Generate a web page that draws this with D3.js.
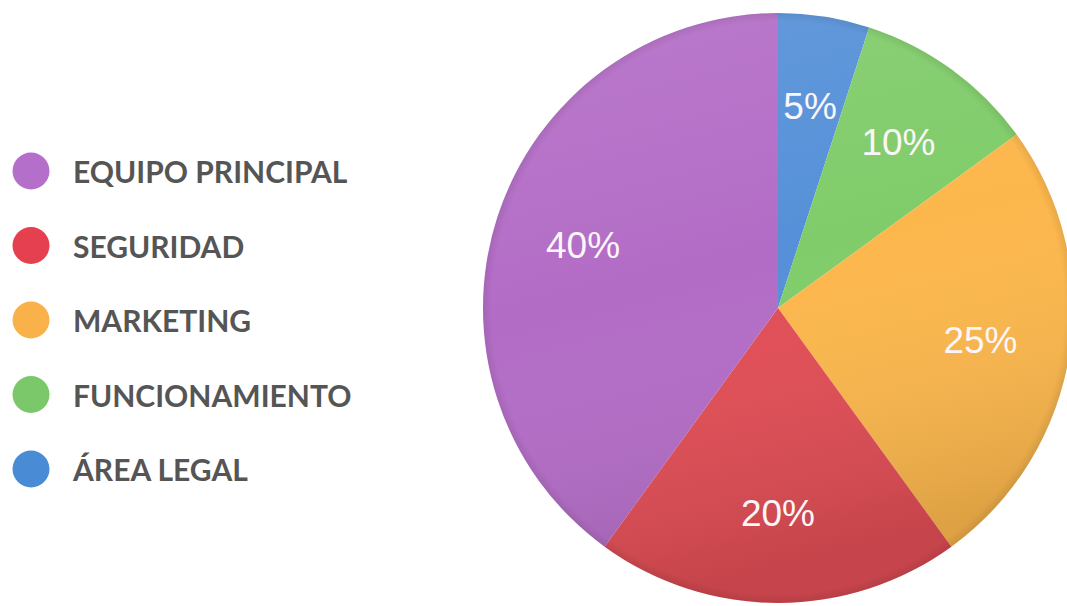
<!DOCTYPE html>
<html>
<head>
<meta charset="utf-8">
<script src="https://cdn.jsdelivr.net/npm/d3@7"></script>
<style>
  html, body { margin: 0; padding: 0; background: #ffffff; }
  svg { display: block; }
</style>
</head>
<body>
<svg id="chart" width="1067" height="606"></svg>
<script>
// ---- data ----
const categories = ["ÁREA LEGAL", "FUNCIONAMIENTO", "MARKETING", "SEGURIDAD", "EQUIPO PRINCIPAL"];
const values = [5, 10, 25, 20, 40];
const sliceColors = ["#5590d8", "#80cc6a", "#fcb74c", "#e14d55", "#b36cc6"];
const legendOrder = ["EQUIPO PRINCIPAL", "SEGURIDAD", "MARKETING", "FUNCIONAMIENTO", "ÁREA LEGAL"];
const legendColors = ["#b46fcb", "#e5404f", "#f9b24a", "#7bc86a", "#4a8bd6"];

const svg = d3.select("#chart");
const defs = svg.append("defs");

const cx = 778, cy = 308, R = 295;

const color = d3.scaleOrdinal().domain(categories).range(sliceColors);

const pie = d3.pie().sort(null).value(d => d.value);
const data = categories.map((c, i) => ({ cat: c, value: values[i] }));
const arcs = pie(data);

const arc = d3.arc().innerRadius(0).outerRadius(R);
const labelArc = d3.arc().innerRadius(205).outerRadius(205);

// shading overlay gradient
const shade = defs.append("linearGradient")
  .attr("id", "shade").attr("x1", "0").attr("y1", "0").attr("x2", "0.25").attr("y2", "1");
shade.append("stop").attr("offset", "0%").attr("stop-color", "#ffffff").attr("stop-opacity", 0.1);
shade.append("stop").attr("offset", "50%").attr("stop-color", "#ffffff").attr("stop-opacity", 0.0);
shade.append("stop").attr("offset", "100%").attr("stop-color", "#000000").attr("stop-opacity", 0.12);

const rim = defs.append("radialGradient").attr("id", "rim");
rim.append("stop").attr("offset", "97%").attr("stop-color", "#000").attr("stop-opacity", 0);
rim.append("stop").attr("offset", "100%").attr("stop-color", "#000").attr("stop-opacity", 0.08);

const g = svg.append("g").attr("transform", `translate(${cx},${cy})`);

g.selectAll("path.slice")
  .data(arcs)
  .join("path")
  .attr("class", "slice")
  .attr("d", arc)
  .attr("fill", d => color(d.data.cat));

g.append("circle").attr("r", R).attr("fill", "url(#shade)");
g.append("circle").attr("r", R).attr("fill", "url(#rim)");

g.selectAll("text.pct")
  .data(arcs)
  .join("text")
  .attr("class", "pct")
  .attr("transform", d => `translate(${labelArc.centroid(d)})`)
  .attr("text-anchor", "middle")
  .attr("dy", "0.36em")
  .attr("fill", "#fbf6f8")
  .style("font-family", "'Liberation Sans', Arial, sans-serif")
  .style("font-size", "37px")
  .text(d => d.data.value + "%");

// legend
const ly = d3.scalePoint().domain(legendOrder).range([171, 469]);
const lcol = d3.scaleOrdinal().domain(legendOrder).range(legendColors);

const leg = svg.append("g").selectAll("g")
  .data(legendOrder)
  .join("g")
  .attr("transform", d => `translate(0,${ly(d)})`);

leg.append("circle").attr("cx", 31).attr("cy", 0).attr("r", 18.5).attr("fill", d => lcol(d));
leg.append("text")
  .attr("x", 73).attr("y", 12)
  .attr("fill", "#555555")
  .style("font-family", "Lato, 'Open Sans', sans-serif")
  .style("font-weight", "700")
  .style("font-size", "30px")
  .text(d => d);
</script>
</body>
</html>
